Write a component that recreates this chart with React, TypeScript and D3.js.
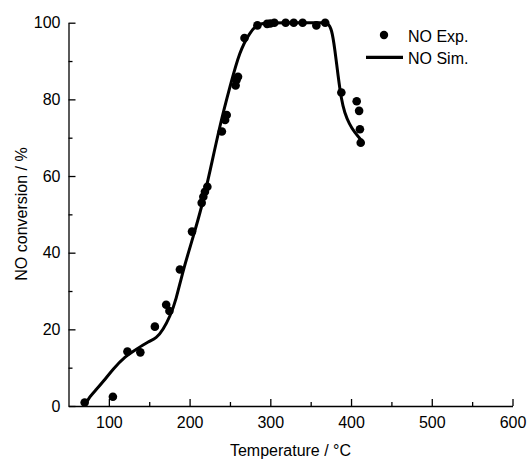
import * as d3 from 'd3'
import React, { useRef, useEffect } from 'react'

// experimental points (temperature in °C, NO conversion in %)
const expTemp = [70, 105, 123, 139, 157, 171, 175, 188, 203, 215, 217, 219, 222, 240, 244, 246, 257, 258, 260, 268, 284, 296, 300, 305, 319, 329, 340, 357, 368, 388, 407, 410, 411, 412]
const expConv = [0.9, 2.4, 14.2, 14.0, 20.7, 26.4, 24.8, 35.6, 45.5, 53.0, 54.6, 55.9, 57.2, 71.6, 74.6, 75.9, 83.6, 85.0, 85.9, 96.0, 99.3, 99.7, 99.8, 100, 100, 100, 100, 99.3, 100, 81.8, 79.5, 77.0, 72.2, 68.7]

// simulated curve
const simTemp = [70, 76, 84, 94, 105, 120, 134, 149, 159, 167, 176, 183, 192, 205, 215, 223, 238, 250, 262, 275, 284, 295, 320, 345, 365, 371, 376, 380, 384, 388, 392, 398, 404, 412]
const simConv = [0, 2.4, 4.2, 6.6, 9.6, 12.9, 14.8, 16.8, 17.7, 19.8, 23.5, 27.5, 35.5, 44.5, 52, 59, 73.7, 83.3, 92.6, 97.6, 99.6, 100, 100, 100, 100, 100, 98.5, 93, 86, 80, 76.5, 73.5, 71.5, 69.5]

const xMajor = [100, 200, 300, 400, 500, 600]
const xMinor = [150, 250, 350, 450, 550]
const yMajor = [0, 20, 40, 60, 80, 100]
const yMinor = [10, 30, 50, 70, 90]

const font = '"Liberation Sans", Arial, sans-serif'

export default function App() {
    const xRef = useRef(null)
    const yRef = useRef(null)

    const x = d3.scaleLinear().domain([50, 600]).range([68.5, 512.5])
    const y = d3.scaleLinear().domain([0, 100]).range([406, 22.7])

    const line = d3
        .line<number>()
        .x((d, i) => x(simTemp[i]))
        .y(d => y(d))
        .curve(d3.curveBasis)

    useEffect(() => {
        const gx = d3.select(xRef.current)
        gx.selectAll('*').remove()
        gx.append('g').call(
            d3.axisBottom(x).tickValues(xMinor).tickSizeInner(-4).tickSizeOuter(0).tickFormat(() => '')
        ).select('.domain').remove()
        gx.append('g').call(
            d3.axisBottom(x).tickValues(xMajor).tickSizeInner(-7).tickSizeOuter(0).tickPadding(11)
        )

        const gy = d3.select(yRef.current)
        gy.selectAll('*').remove()
        gy.append('g').call(
            d3.axisLeft(y).tickValues(yMinor).tickSizeInner(-4).tickSizeOuter(0).tickFormat(() => '')
        ).select('.domain').remove()
        gy.append('g').call(
            d3.axisLeft(y).tickValues(yMajor).tickSizeInner(-7).tickSizeOuter(0).tickPadding(8)
        )

        d3.selectAll('.axis path, .axis line').attr('stroke', '#000').attr('stroke-width', 1.3)
        d3.selectAll('.axis text').attr('font-size', 16).attr('font-family', font).attr('fill', '#000')
    }, [])

    return (
        <svg width={527} height={459} style={{ position: 'absolute', left: 0, top: 0, background: '#fff' }}>
            <g className="axis" ref={xRef} transform={`translate(0,${y(0)})`} />
            <g className="axis" ref={yRef} transform={`translate(${x(50)},0)`} />

            <path d={line(simConv) || ''} fill="none" stroke="#000" strokeWidth={3} />

            {expConv.map((v, i) => (
                <circle key={i} cx={x(expTemp[i])} cy={y(v)} r={4.3} fill="#000" />
            ))}

            <circle cx={384} cy={35} r={4.2} fill="#000" />
            <text x={408} y={41.5} fontSize={16} fontFamily={font}>NO Exp.</text>
            <line x1={366} x2={403} y1={57.3} y2={57.3} stroke="#000" strokeWidth={3.2} />
            <text x={408} y={63.8} fontSize={16} fontFamily={font}>NO Sim.</text>

            <text x={290.5} y={456} textAnchor="middle" fontSize={16} fontFamily={font}>Temperature / °C</text>
            <text transform="translate(27,214) rotate(-90)" textAnchor="middle" fontSize={16} fontFamily={font}>NO conversion / %</text>
        </svg>
    )
}
